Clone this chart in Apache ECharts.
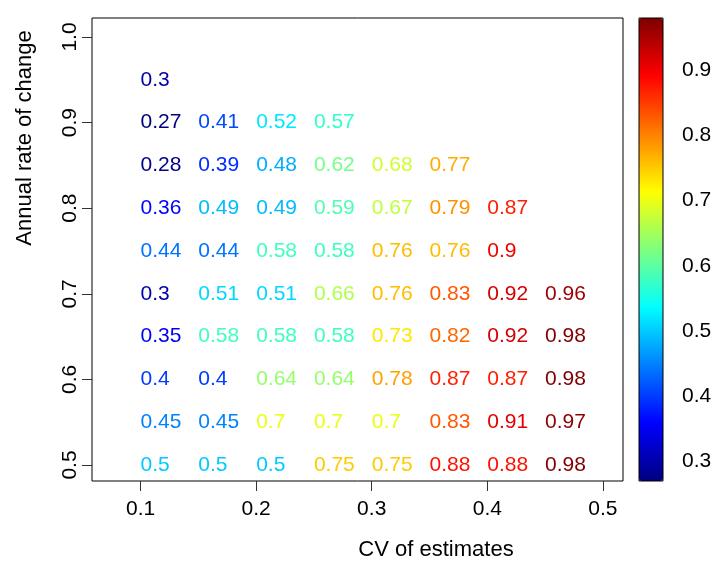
<!DOCTYPE html>
<html>
<head>
<meta charset="utf-8">
<script src="https://cdn.jsdelivr.net/npm/echarts@6/dist/echarts.min.js"></script>
<style>
  html, body { margin: 0; padding: 0; background: #fff; }
  #chart { width: 717px; height: 565px; }
</style>
</head>
<body>
<div id="chart"></div>
<script>
// CV levels (columns) and annual rates of change (rows)
const cvLevels = [0.1, 0.15, 0.2, 0.25, 0.3, 0.35, 0.4, 0.45];
const rateLevels = [0.95, 0.9, 0.85, 0.8, 0.75, 0.7, 0.65, 0.6, 0.55, 0.5];

// Power values per row, left to right starting at CV = 0.1
const row095 = [0.3];
const row090 = [0.27, 0.41, 0.52, 0.57];
const row085 = [0.28, 0.39, 0.48, 0.62, 0.68, 0.77];
const row080 = [0.36, 0.49, 0.49, 0.59, 0.67, 0.79, 0.87];
const row075 = [0.44, 0.44, 0.58, 0.58, 0.76, 0.76, 0.9];
const row070 = [0.3, 0.51, 0.51, 0.66, 0.76, 0.83, 0.92, 0.96];
const row065 = [0.35, 0.58, 0.58, 0.58, 0.73, 0.82, 0.92, 0.98];
const row060 = [0.4, 0.4, 0.64, 0.64, 0.78, 0.87, 0.87, 0.98];
const row055 = [0.45, 0.45, 0.7, 0.7, 0.7, 0.83, 0.91, 0.97];
const row050 = [0.5, 0.5, 0.5, 0.75, 0.75, 0.88, 0.88, 0.98];
const powerRows = [row095, row090, row085, row080, row075, row070, row065, row060, row055, row050];

// Axis tick labels
const xTicks = [0.1, 0.2, 0.3, 0.4, 0.5];
const yTicks = [0.5, 0.6, 0.7, 0.8, 0.9, 1.0];
const barTicks = [0.3, 0.4, 0.5, 0.6, 0.7, 0.8, 0.9];

// Jet palette and colour scale range
const jet = ['#00007F', '#0000FF', '#007FFF', '#00FFFF', '#7FFF7F', '#FFFF00', '#FF7F00', '#FF0000', '#7F0000'];
const scaleMin = 0.27, scaleMax = 0.98;

function hexToRgb(h) {
  return [parseInt(h.slice(1, 3), 16), parseInt(h.slice(3, 5), 16), parseInt(h.slice(5, 7), 16)];
}
function jetColor(v) {
  let t = (v - scaleMin) / (scaleMax - scaleMin);
  t = Math.max(0, Math.min(1, t)) * (jet.length - 1);
  const i = Math.min(Math.floor(t), jet.length - 2);
  const f = t - i;
  const a = hexToRgb(jet[i]), b = hexToRgb(jet[i + 1]);
  const c = a.map((x, k) => Math.round(x + (b[k] - x) * f));
  return 'rgb(' + c.join(',') + ')';
}

const points = [];
powerRows.forEach((row, r) => {
  row.forEach((val, c) => {
    points.push({
      value: [cvLevels[c], rateLevels[r], val],
      label: { color: jetColor(val) }
    });
  });
});

const FONT = '"Liberation Sans", Arial, sans-serif';
const chart = echarts.init(document.getElementById('chart'), null, { renderer: 'canvas' });

chart.setOption({
  backgroundColor: '#fff',
  animation: false,
  textStyle: { fontFamily: FONT },
  grid: [
    { left: 92, top: 18, width: 531, height: 463, show: true, borderColor: '#000', borderWidth: 1, backgroundColor: 'transparent' },
    { left: 639, top: 18, width: 24, height: 463, show: true, borderColor: '#000', borderWidth: 1, backgroundColor: 'transparent', z: 10 }
  ],
  xAxis: [
    {
      type: 'value', gridIndex: 0, min: 0.058, max: 0.5174,
      splitLine: { show: false },
      axisLine: { show: false },
      axisTick: { show: true, customValues: xTicks, length: 10, lineStyle: { color: '#333' } },
      axisLabel: { customValues: xTicks, fontSize: 21, color: '#000', margin: 18, fontFamily: FONT,
                   formatter: v => v.toFixed(1) }
    },
    { type: 'value', gridIndex: 1, min: 0, max: 1, show: false }
  ],
  yAxis: [
    {
      type: 'value', gridIndex: 0, min: 0.4813, max: 1.0222,
      splitLine: { show: false },
      axisLine: { show: false },
      axisTick: { show: true, customValues: yTicks, length: 10, lineStyle: { color: '#333' } },
      axisLabel: { customValues: yTicks, fontSize: 21, color: '#000', margin: 11, rotate: 90, fontFamily: FONT,
                   formatter: v => v.toFixed(1) }
    },
    {
      type: 'value', gridIndex: 1, position: 'right', min: scaleMin, max: scaleMax,
      splitLine: { show: false },
      axisLine: { show: false },
      axisTick: { show: true, customValues: barTicks, length: 10, lineStyle: { color: '#333' } },
      axisLabel: { customValues: barTicks, fontSize: 21, color: '#000', margin: 19, fontFamily: FONT,
                   formatter: v => v.toFixed(1) }
    }
  ],
  visualMap: {
    type: 'continuous',
    min: scaleMin, max: scaleMax,
    dimension: 2,
    seriesIndex: 1,
    calculable: false,
    left: 639, top: 18,
    itemWidth: 24, itemHeight: 463,
    padding: 0,
    text: ['', ''],
    showLabel: false,
    hoverLink: false,
    inRange: { color: jet }
  },
  graphic: [
    {
      type: 'text', x: 25, y: 138, rotation: Math.PI / 2,
      style: { text: 'Annual rate of change', fontSize: 22, fontFamily: FONT, fill: '#000',
               align: 'center', verticalAlign: 'middle' }
    },
    {
      type: 'text', x: 436, y: 550,
      style: { text: 'CV of estimates', fontSize: 22, fontFamily: FONT, fill: '#000',
               align: 'center', verticalAlign: 'middle' }
    }
  ],
  series: [
    {
      type: 'scatter',
      xAxisIndex: 0, yAxisIndex: 0,
      symbolSize: 0,
      itemStyle: { opacity: 1 },
      data: points,
      label: {
        show: true,
        position: 'right',
        distance: 0,
        align: 'left',
        verticalAlign: 'middle',
        fontSize: 21,
        fontFamily: FONT,
        opacity: 1,
        formatter: p => String(p.value[2])
      }
    },
    {
      // colour-bar host: no visible marks
      type: 'scatter',
      xAxisIndex: 1, yAxisIndex: 1,
      symbolSize: 0,
      silent: true,
      data: []
    }
  ]
});
</script>
</body>
</html>
